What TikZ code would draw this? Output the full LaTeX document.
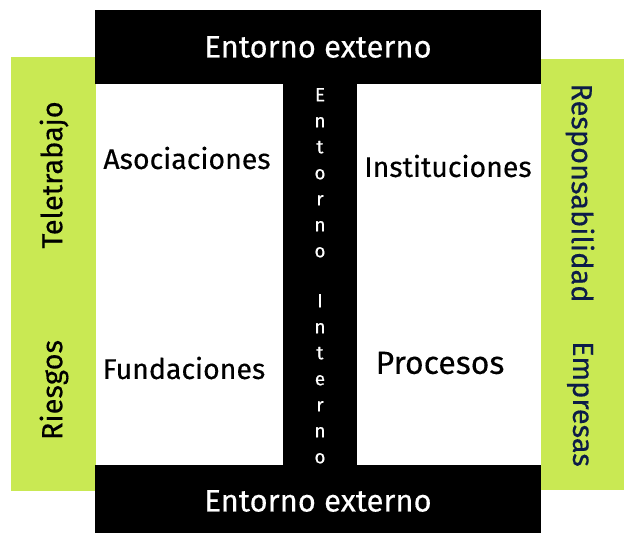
\documentclass[tikz,border=0pt]{standalone}
\usepackage{fontspec}
\setmainfont{Fira Sans}[FakeBold=0.35]
\definecolor{lime}{RGB}{201,233,83}
\definecolor{navy}{RGB}{12,28,72}
\begin{document}
\begin{tikzpicture}[x=1pt,y=-1pt,
  bar/.style={text=white,inner sep=0pt,font=\fontsize{31}{36}\selectfont},
  side/.style={fill=lime,inner sep=0pt},
  lab/.style={text=black,inner sep=0pt,font=\fontsize{28.5}{34}\selectfont},
  vlab/.style={text=navy,inner sep=0pt,font=\fontsize{29}{34}\selectfont},
  stack/.style={text=white,inner sep=0pt,align=center,font=\fontsize{19}{26}\selectfont}]
\useasboundingbox (0,0) rectangle (624,533);
% green side panels
\path[side] (11,57) rectangle (96,491);
\path[side] (541,59) rectangle (624,490);
% black frame
\path[fill=black] (95,10) rectangle (541,84);
\path[fill=black] (95,465) rectangle (541,533);
\path[fill=black] (283,84) rectangle (357,465);
% texts
\node[bar] (top) at (318,47) {Entorno externo};
\node[bar] (bot) at (318,501) {Entorno externo};
\node[stack,anchor=north] (ent) at (320,88) {E\\n\\t\\o\\r\\n\\o};
\node[stack,anchor=north] (int) at (320,294) {I\\n\\t\\e\\r\\n\\o};
\node[lab] (aso) at (187,158) {Asociaciones};
\node[lab] (ins) at (448,166) {Instituciones};
\node[lab] (fun) at (184,368) {Fundaciones};
\node[lab,font=\fontsize{32}{38}\selectfont] (pro) at (440,363) {Procesos};
\node[vlab,text=black,rotate=90] (tel) at (54,175) {Teletrabajo};
\node[vlab,text=black,rotate=90] (rie) at (54,390) {Riesgos};
\node[vlab,rotate=-90] (res) at (580,193) {Responsabilidad};
\node[vlab,rotate=-90] (emp) at (580,404) {Empresas};
\end{tikzpicture}
\end{document}
